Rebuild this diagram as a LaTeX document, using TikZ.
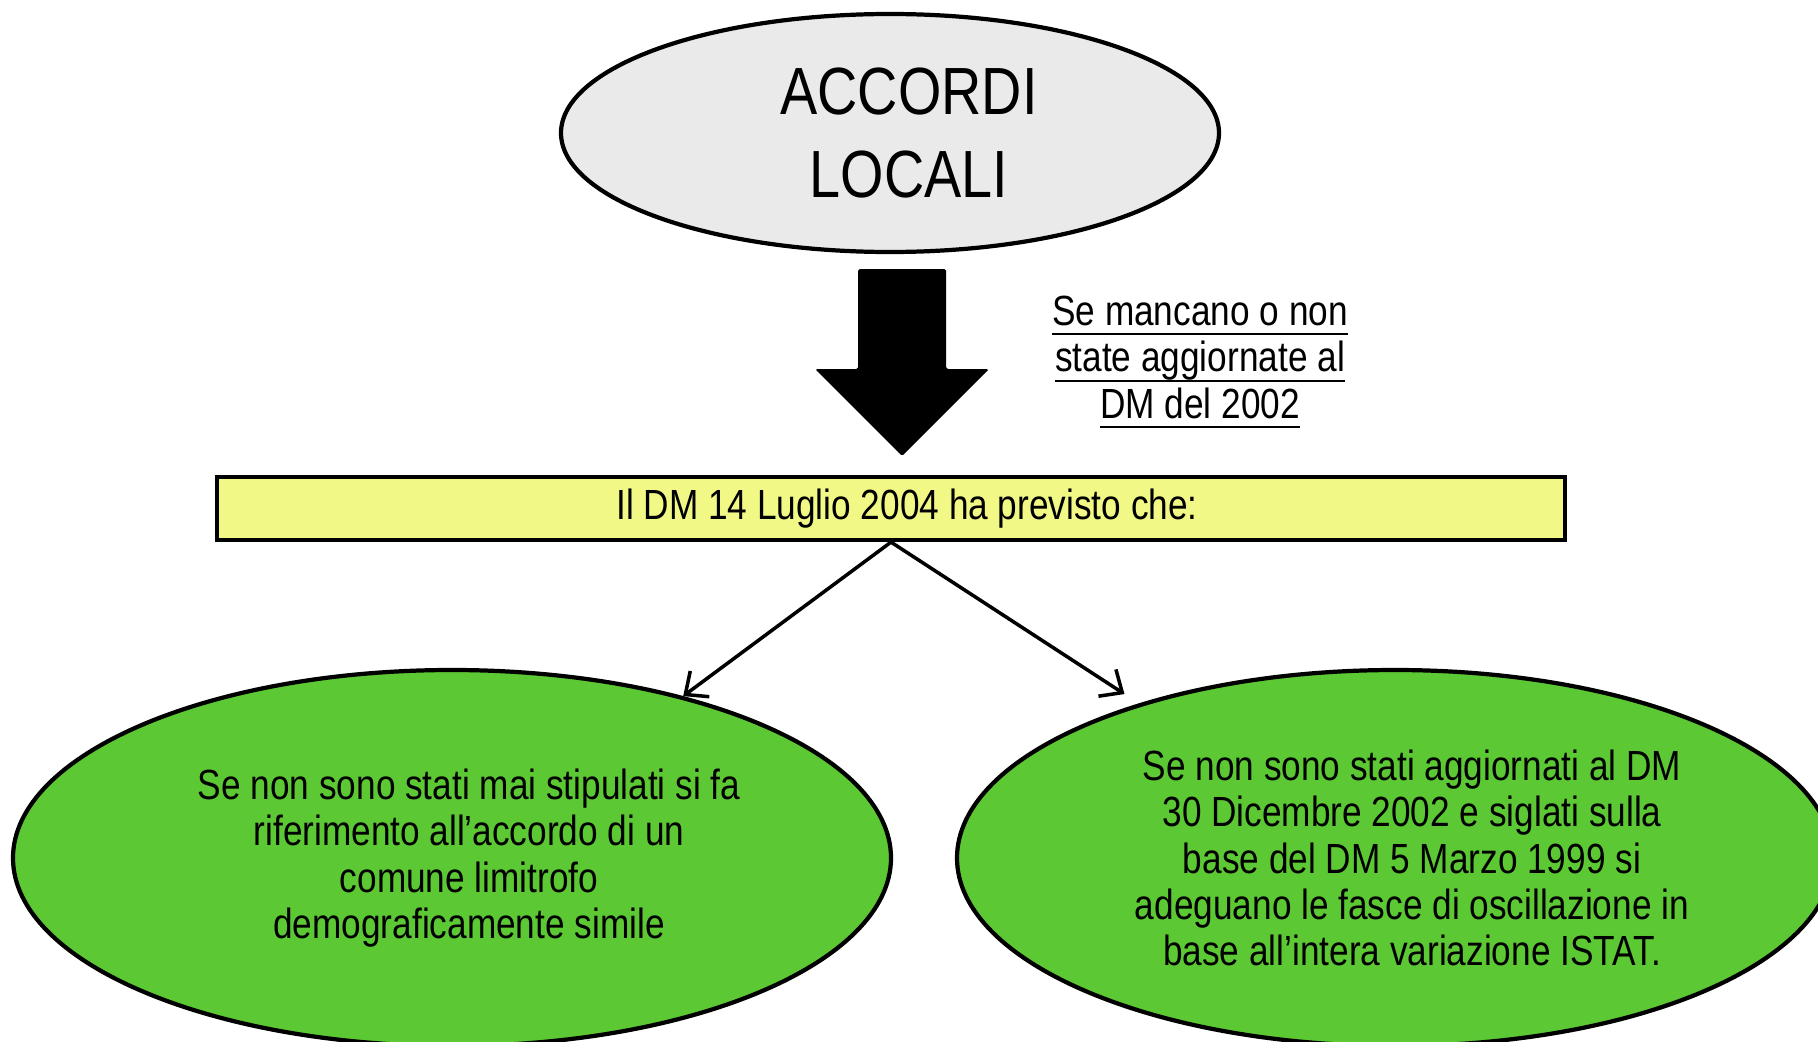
\documentclass[tikz,border=0pt]{standalone}
\usepackage{fontspec}
\setmainfont[FakeStretch=0.835]{Liberation Sans}
\usetikzlibrary{shapes.geometric,arrows.meta}
\definecolor{accgray}{RGB}{234,234,234}
\definecolor{accyellow}{RGB}{242,248,134}
\definecolor{accgreen}{RGB}{92,200,52}
\newcommand\ulined[1]{\setbox0\hbox{#1}\rlap{\rule[-2.8pt]{\wd0}{0.6pt}}\box0}
\begin{document}
\begin{tikzpicture}[
  bubble/.style={ellipse, draw, line width=1.2pt, inner sep=0pt},
  txt/.style={font=\fontsize{12}{13.2}\selectfont, align=center},
  link/.style={-{Straight Barb[length=1.8mm,width=3.2mm]}, line width=1pt}
]
\useasboundingbox (0,0) rectangle (18.18,10.41);
\clip (0,0) rectangle (18.18,10.41);
\node[bubble, fill=accgray, minimum width=6.58cm, minimum height=2.38cm] (accordi) at (8.90,9.08) {};
\node[align=center, font=\fontsize{19}{23.6}\selectfont, xshift=1.9mm] (accorditext) at (accordi) {ACCORDI\\LOCALI};
\fill[rounded corners=0.5pt] (8.58,7.72) -- (9.46,7.72) -- (9.46,6.72) -- (9.89,6.72)
  -- (9.02,5.85) -- (8.15,6.72) -- (8.58,6.72) -- cycle;
\node[txt] (cond) at (12.00,6.79) {\ulined{Se mancano o non}\\\ulined{state aggiornate al}\\\ulined{DM del 2002}};
\node[draw, line width=1.2pt, fill=accyellow, minimum width=13.48cm, minimum height=0.63cm] (dm) at (8.91,5.325) {};
\node[txt, xshift=1.6mm] (dmtext) at (dm) {Il DM 14 Luglio 2004 ha previsto che:};
\node[bubble, fill=accgreen, minimum width=8.78cm, minimum height=3.76cm] (left) at (4.52,1.83) {};
\node[txt, xshift=1.7mm] (lefttext) at (left)
  {Se non sono stati mai stipulati si fa\\riferimento all’accordo di un\\comune limitrofo\\demograficamente simile};
\node[bubble, fill=accgreen, minimum width=8.76cm, minimum height=3.76cm] (right) at (13.95,1.83) {};
\node[txt, xshift=1.7mm] (righttext) at (right)
  {Se non sono stati aggiornati al DM\\30 Dicembre 2002 e siglati sulla\\base del DM 5 Marzo 1999 si\\adeguano le fasce di oscillazione in\\base all’intera variazione ISTAT.};
\coordinate (rightin) at ([yshift=1.4mm]right.151);
\draw[link] (dm.south) -- (left.35);
\draw[link] (dm.south) -- (rightin);
\end{tikzpicture}
\end{document}
